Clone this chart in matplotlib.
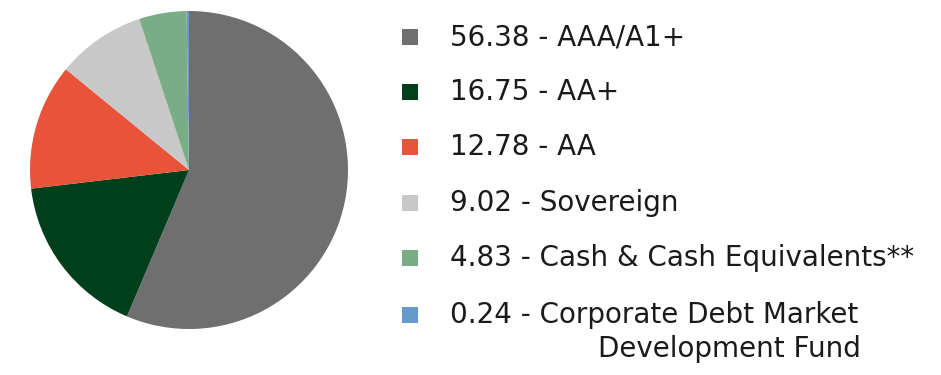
import matplotlib
matplotlib.use("Agg")
import matplotlib.pyplot as plt
from matplotlib.patches import Rectangle

values = [56.38, 16.75, 12.78, 9.02, 4.83, 0.24]
labels = ["AAA/A1+", "AA+", "AA", "Sovereign", "Cash & Cash Equivalents**",
          "Corporate Debt Market\nDevelopment Fund"]
colors = ["#6f6f6f", "#003f1b", "#e8533a", "#c8c8c8", "#7aad85", "#6699cc"]

W, H = 941, 375
fig = plt.figure(figsize=(W / 100, H / 100), dpi=100)
fig.patch.set_facecolor("white")

cx, cy, r = 189, 170, 159
ax = fig.add_axes([(cx - r) / W, (H - cy - r) / H, 2 * r / W, 2 * r / H])
ax.pie(values, colors=colors, startangle=90, counterclock=False,
       radius=1.0, wedgeprops=dict(linewidth=0))
ax.set_xlim(-1, 1)
ax.set_ylim(-1, 1)
ax.set_aspect("equal")
ax.axis("off")

font = "DejaVu Sans"
row_y = [37, 92, 147, 203, 258, 315]
for i, (v, lab, c) in enumerate(zip(values, labels, colors)):
    y = row_y[i]
    fig.patches.append(Rectangle(((402) / W, (H - y - 8) / H), 16 / W, 16 / H,
                                 transform=fig.transFigure, facecolor=c,
                                 edgecolor="none"))
    parts = lab.split("\n")
    fig.text(450 / W, (H - y) / H, f"{v:.2f} - {parts[0]}", fontsize=20,
             family=font, color="#1a1a1a", va="center", ha="left")
    if len(parts) > 1:
        fig.text(598 / W, (H - y - 34) / H, parts[1], fontsize=20,
                 family=font, color="#1a1a1a", va="center", ha="left")

fig.savefig("out.png", dpi=100, facecolor="white")
